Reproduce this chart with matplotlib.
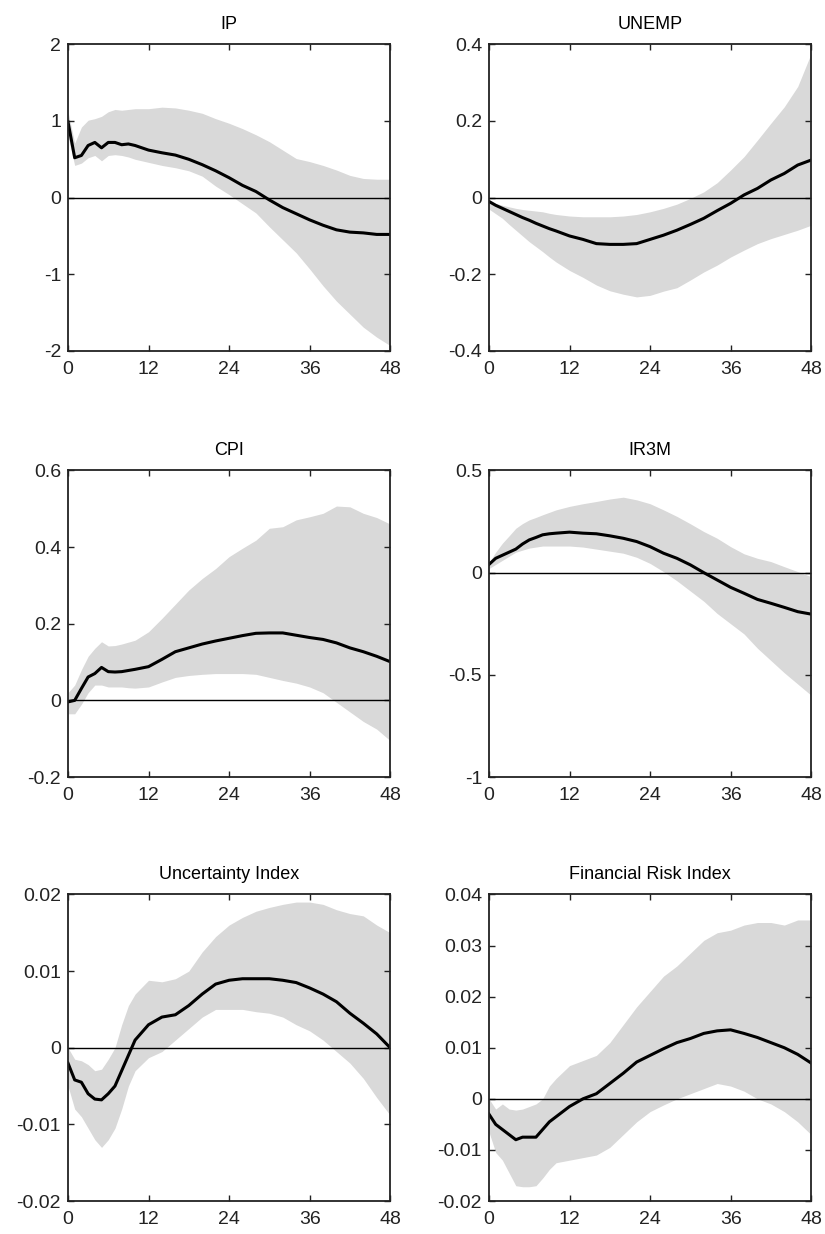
import numpy as np
import matplotlib
matplotlib.use("Agg")
import matplotlib.pyplot as plt

plt.rcParams['font.family'] = ['Liberation Sans', 'DejaVu Sans']

# horizons (months)
h = [0, 1, 2, 3, 4, 5, 6, 7, 8, 9, 10, 12, 14, 16, 18, 20, 22, 24, 26, 28,
     30, 32, 34, 36, 38, 40, 42, 44, 46, 48]

titles = ["IP", "UNEMP", "CPI", "IR3M", "Uncertainty Index", "Financial Risk Index"]

ip_med = [0.99, 0.52, 0.55, 0.68, 0.72, 0.65, 0.72, 0.72, 0.69, 0.70, 0.68, 0.62, 0.585, 0.555, 0.50,
          0.43, 0.35, 0.26, 0.16, 0.08, -0.03, -0.13, -0.21, -0.29, -0.36, -0.42, -0.45, -0.46, -0.48, -0.48]
ip_up = [1.12, 0.71, 0.92, 1.01, 1.03, 1.06, 1.12, 1.15, 1.14, 1.15, 1.16, 1.16, 1.18, 1.17, 1.14,
         1.10, 1.03, 0.97, 0.90, 0.82, 0.73, 0.62, 0.51, 0.47, 0.42, 0.36, 0.29, 0.25, 0.24, 0.24]
ip_lo = [0.80, 0.42, 0.45, 0.52, 0.55, 0.48, 0.55, 0.56, 0.55, 0.53, 0.50, 0.46, 0.42, 0.39, 0.35,
         0.28, 0.15, 0.04, -0.08, -0.20, -0.38, -0.55, -0.72, -0.93, -1.15, -1.35, -1.52, -1.69, -1.82, -1.93]

un_med = [-0.01, -0.02, -0.028, -0.036, -0.044, -0.052, -0.059, -0.067, -0.074, -0.081, -0.087, -0.10,
          -0.109, -0.12, -0.122, -0.122, -0.12, -0.109, -0.098, -0.085, -0.070, -0.054, -0.034, -0.015,
          0.007, 0.024, 0.046, 0.063, 0.085, 0.098]
un_up = [-0.005, -0.015, -0.02, -0.024, -0.028, -0.031, -0.033, -0.035, -0.037, -0.041, -0.044, -0.048,
         -0.05, -0.05, -0.05, -0.048, -0.044, -0.037, -0.028, -0.017, -0.002, 0.015, 0.039, 0.072,
         0.107, 0.15, 0.194, 0.237, 0.29, 0.376]
un_lo = [-0.03, -0.042, -0.054, -0.07, -0.085, -0.10, -0.115, -0.128, -0.141, -0.155, -0.168, -0.19,
         -0.208, -0.228, -0.243, -0.252, -0.259, -0.255, -0.244, -0.235, -0.215, -0.194, -0.176, -0.155,
         -0.137, -0.12, -0.107, -0.096, -0.085, -0.072]

cpi_med = [-0.004, 0.0, 0.031, 0.061, 0.07, 0.086, 0.075, 0.074, 0.075, 0.078, 0.081, 0.088, 0.107,
           0.127, 0.137, 0.147, 0.155, 0.162, 0.169, 0.175, 0.176, 0.176, 0.17, 0.164, 0.159, 0.15,
           0.137, 0.127, 0.115, 0.101]
cpi_up = [0.02, 0.04, 0.08, 0.115, 0.136, 0.153, 0.142, 0.143, 0.147, 0.152, 0.157, 0.179, 0.214,
          0.251, 0.288, 0.318, 0.344, 0.375, 0.397, 0.418, 0.449, 0.453, 0.471, 0.479, 0.488, 0.507,
          0.505, 0.488, 0.477, 0.46]
cpi_lo = [-0.035, -0.035, -0.01, 0.02, 0.04, 0.04, 0.035, 0.035, 0.035, 0.033, 0.032, 0.035, 0.048,
          0.06, 0.065, 0.068, 0.07, 0.07, 0.07, 0.068, 0.06, 0.052, 0.045, 0.035, 0.02, -0.005,
          -0.03, -0.055, -0.075, -0.105]

ir_med = [0.04, 0.07, 0.085, 0.10, 0.115, 0.14, 0.16, 0.172, 0.185, 0.19, 0.193, 0.198, 0.193, 0.19,
          0.18, 0.168, 0.152, 0.127, 0.095, 0.07, 0.038, 0.0, -0.036, -0.072, -0.101, -0.131, -0.15,
          -0.17, -0.191, -0.203]
ir_up = [0.05, 0.10, 0.144, 0.18, 0.217, 0.24, 0.258, 0.27, 0.283, 0.295, 0.307, 0.324, 0.337, 0.348,
         0.36, 0.369, 0.356, 0.337, 0.307, 0.275, 0.239, 0.201, 0.168, 0.127, 0.092, 0.07, 0.054,
         0.029, 0.005, -0.02]
ir_lo = [0.02, 0.04, 0.06, 0.08, 0.10, 0.11, 0.12, 0.125, 0.13, 0.13, 0.13, 0.13, 0.125, 0.115, 0.105,
         0.095, 0.075, 0.045, 0.005, -0.04, -0.09, -0.14, -0.2, -0.25, -0.3, -0.37, -0.43, -0.49,
         -0.545, -0.6]

unc_med = [-0.002, -0.0042, -0.0045, -0.006, -0.0067, -0.0068, -0.006, -0.005, -0.003, -0.001, 0.001,
           0.003, 0.004, 0.0043, 0.0055, 0.007, 0.0083, 0.0088, 0.009, 0.009, 0.009, 0.0088, 0.0085,
           0.0078, 0.007, 0.006, 0.0045, 0.0032, 0.0018, 0.0]
unc_up = [0.0, -0.0015, -0.0017, -0.0022, -0.003, -0.0028, -0.0015, 0.0, 0.003, 0.0055, 0.007, 0.0088,
          0.0086, 0.009, 0.01, 0.0125, 0.0145, 0.016, 0.017, 0.0178, 0.0183, 0.0187, 0.019, 0.019,
          0.0187, 0.018, 0.0175, 0.0172, 0.016, 0.015]
unc_lo = [-0.005, -0.008, -0.009, -0.0105, -0.012, -0.013, -0.012, -0.0105, -0.008, -0.005, -0.003,
          -0.0013, -0.0005, 0.001, 0.0025, 0.004, 0.005, 0.005, 0.005, 0.0047, 0.0045, 0.004, 0.003,
          0.0022, 0.001, -0.0005, -0.002, -0.004, -0.0065, -0.0088]

fr_med = [-0.003, -0.005, -0.006, -0.007, -0.008, -0.0075, -0.0075, -0.0075, -0.006, -0.0045, -0.0035,
          -0.0015, 0.0, 0.001, 0.003, 0.005, 0.0072, 0.0085, 0.0098, 0.011, 0.0118, 0.0128, 0.0133,
          0.0135, 0.0128, 0.012, 0.011, 0.01, 0.0087, 0.007]
fr_up = [0.0, -0.002, -0.001, -0.002, -0.0022, -0.002, -0.0015, -0.001, 0.0, 0.0025, 0.004, 0.0065,
         0.0075, 0.0085, 0.011, 0.0145, 0.018, 0.021, 0.024, 0.026, 0.0285, 0.031, 0.0325, 0.033,
         0.034, 0.0345, 0.0345, 0.034, 0.035, 0.035]
fr_lo = [-0.0065, -0.0105, -0.012, -0.0145, -0.017, -0.0172, -0.0172, -0.017, -0.0155, -0.0138,
         -0.0125, -0.012, -0.0115, -0.011, -0.0095, -0.007, -0.0045, -0.0025, -0.0012, 0.0, 0.001,
         0.002, 0.003, 0.0025, 0.0015, 0.0, -0.001, -0.0025, -0.0045, -0.007]

yticks = [
    [-2, -1, 0, 1, 2],
    [-0.4, -0.2, 0, 0.2, 0.4],
    [-0.2, 0, 0.2, 0.4, 0.6],
    [-1, -0.5, 0, 0.5],
    [-0.02, -0.01, 0, 0.01, 0.02],
    [-0.02, -0.01, 0, 0.01, 0.02, 0.03, 0.04],
]
ylabels = [
    ["-2", "-1", "0", "1", "2"],
    ["-0.4", "-0.2", "0", "0.2", "0.4"],
    ["-0.2", "0", "0.2", "0.4", "0.6"],
    ["-1", "-0.5", "0", "0.5"],
    ["-0.02", "-0.01", "0", "0.01", "0.02"],
    ["-0.02", "-0.01", "0", "0.01", "0.02", "0.03", "0.04"],
]
xticks = [0, 12, 24, 36, 48]

meds = [ip_med, un_med, cpi_med, ir_med, unc_med, fr_med]
ups = [ip_up, un_up, cpi_up, ir_up, unc_up, fr_up]
los = [ip_lo, un_lo, cpi_lo, ir_lo, unc_lo, fr_lo]

fig = plt.figure(figsize=(8.25, 12.34), dpi=100)
lefts = [0.0824, 0.5927]
bottoms = [0.7156, 0.3703, 0.0267]

for i in range(6):
    r, c = i // 2, i % 2
    ax = fig.add_axes([lefts[c], bottoms[r], 0.3905, 0.2485])
    ax.fill_between(h, los[i], ups[i], color='#d9d9d9', linewidth=0)
    ax.axhline(0, color='black', linewidth=1.0)
    ax.plot(h, meds[i], color='black', linewidth=2.2)
    ax.set_xlim(0, 48)
    ax.set_ylim(yticks[i][0], yticks[i][-1])
    ax.set_xticks(xticks)
    ax.set_xticklabels([str(x) for x in xticks])
    ax.set_yticks(yticks[i])
    ax.set_yticklabels(ylabels[i])
    ax.tick_params(direction='in', top=True, right=True, length=4, width=1,
                   labelsize=14, pad=5, colors='#222222')
    ax.tick_params(axis='x', pad=7)
    for s in ax.spines.values():
        s.set_linewidth(1.3)
        s.set_color('#222222')
    ax.set_title(titles[i], fontsize=13, pad=11)

fig.savefig("out.png", dpi=100)
